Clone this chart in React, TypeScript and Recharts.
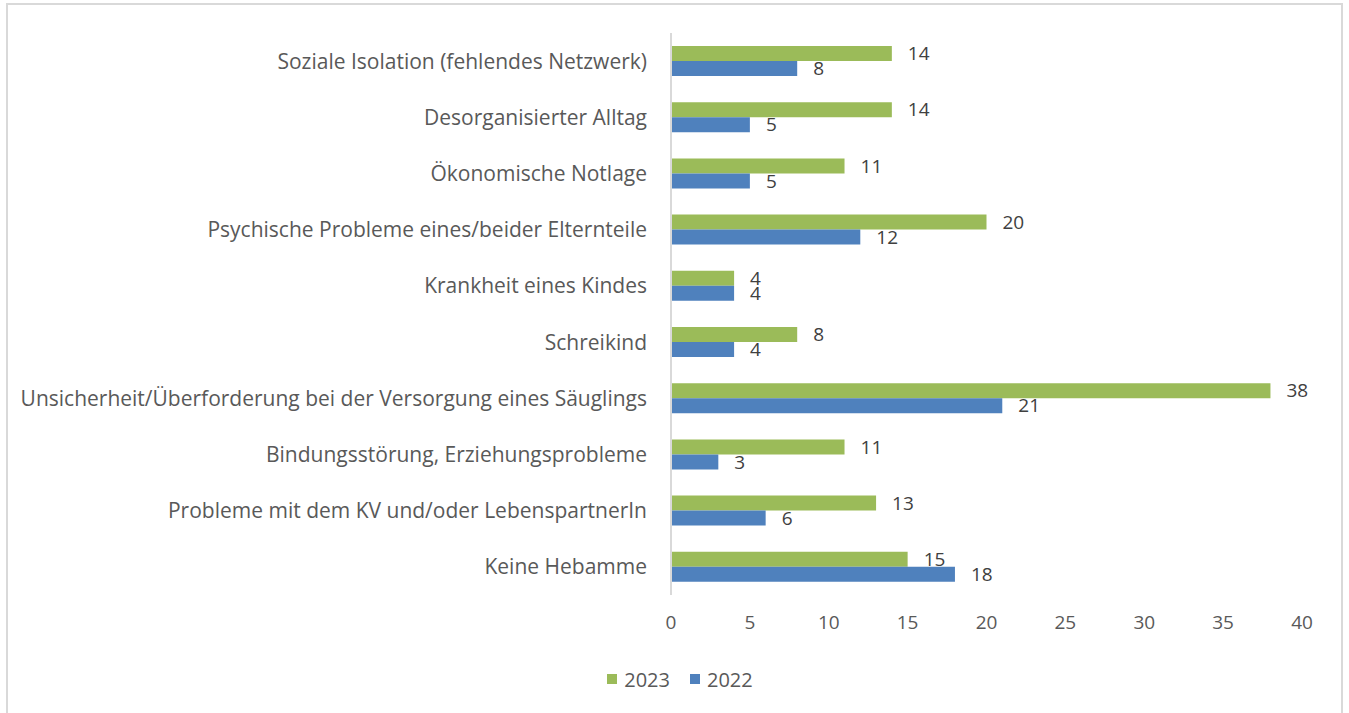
import React from 'react';
import { BarChart, Bar, XAxis, YAxis, Legend, LabelList } from 'recharts';

const categories = [
  'Soziale Isolation (fehlendes Netzwerk)',
  'Desorganisierter Alltag',
  'Ökonomische Notlage',
  'Psychische Probleme eines/beider Elternteile',
  'Krankheit eines Kindes',
  'Schreikind',
  'Unsicherheit/Überforderung bei der Versorgung eines Säuglings',
  'Bindungsstörung, Erziehungsprobleme',
  'Probleme mit dem KV und/oder LebenspartnerIn',
  'Keine Hebamme',
];
const values2023 = [14, 14, 11, 20, 4, 8, 38, 11, 13, 15];
const values2022 = [8, 5, 5, 12, 4, 4, 21, 3, 6, 18];
const xTicks = [0, 5, 10, 15, 20, 25, 30, 35, 40];

const data = categories.map((name, i) => ({
  name,
  y2023: values2023[i],
  y2022: values2022[i],
}));

const FONT = '"Open Sans", sans-serif';
const GREEN = '#9BBB59';
const BLUE = '#4F81BD';

const LegendContent = () => (
  <div style={{ display: 'flex', justifyContent: 'center', alignItems: 'center', height: 24, marginLeft: 58, fontFamily: FONT, fontSize: 20, color: '#595959' }}>
    <span style={{ width: 10, height: 10, background: GREEN, display: 'inline-block', marginRight: 7 }} />
    <span style={{ marginRight: 20 }}>2023</span>
    <span style={{ width: 10, height: 10, background: BLUE, display: 'inline-block', marginRight: 7 }} />
    <span>2022</span>
  </div>
);

export default function App() {
  return (
    <div style={{ position: 'absolute', left: 0, top: 0, width: 1349, height: 713, background: '#fff', overflow: 'hidden' }}>
      <div style={{ position: 'absolute', left: 6, top: 3, width: 1337, height: 730, border: '2px solid #d9d9d9', boxSizing: 'border-box' }} />
      <BarChart
        width={1349}
        height={713}
        data={data}
        layout="vertical"
        barGap={0}
        barSize={15}
        margin={{ top: 33, right: 47, left: 0, bottom: 22 }}
      >
        <XAxis
          type="number"
          domain={[0, 40]}
          ticks={xTicks}
          axisLine={false}
          tickLine={false}
          tickSize={0}
          tickMargin={21}
          height={72}
          tick={{ fill: '#595959', fontSize: 19, fontFamily: FONT }}
        />
        <YAxis
          type="category"
          dataKey="name"
          width={671}
          axisLine={{ stroke: '#d9d9d9', strokeWidth: 2 }}
          tickLine={false}
          tickSize={0}
          tickMargin={24}
          interval={0}
          tick={{ fill: '#595959', fontSize: 21, fontFamily: FONT }}
        />
        <Legend verticalAlign="bottom" height={24} content={<LegendContent />} />
        <Bar dataKey="y2023" name="2023" fill={GREEN} isAnimationActive={false}>
          <LabelList dataKey="y2023" position="right" offset={16} fill="#404040" fontSize={19} fontFamily={FONT} />
        </Bar>
        <Bar dataKey="y2022" name="2022" fill={BLUE} isAnimationActive={false}>
          <LabelList dataKey="y2022" position="right" offset={16} fill="#404040" fontSize={19} fontFamily={FONT} />
        </Bar>
      </BarChart>
    </div>
  );
}
